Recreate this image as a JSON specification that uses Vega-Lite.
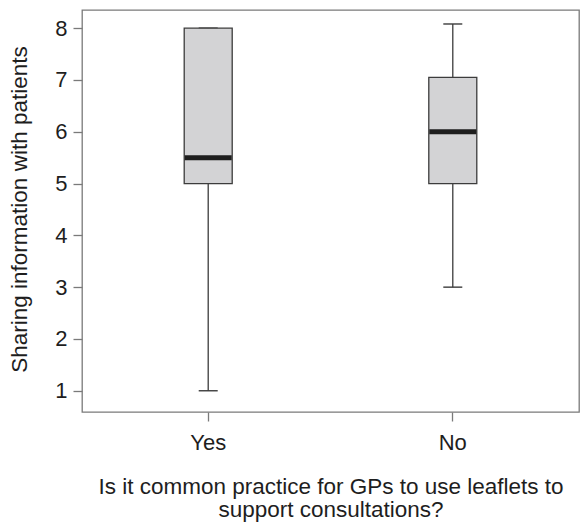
{
  "$schema": "https://vega.github.io/schema/vega-lite/v6.json",
  "width": 497,
  "height": 402,
  "autosize": "none",
  "padding": {"left": 82, "top": 10, "right": 8, "bottom": 112},
  "background": "white",
  "config": {
    "view": {"stroke": "#7a7a7a", "strokeWidth": 1.3},
    "font": "Liberation Sans",
    "axis": {
      "grid": false,
      "domain": false,
      "tickColor": "#7a7a7a",
      "tickWidth": 1.3,
      "tickSize": 9,
      "labelColor": "#1e1e1e",
      "titleColor": "#1e1e1e",
      "labelFont": "Liberation Sans",
      "titleFont": "Liberation Sans",
      "titleFontWeight": "normal",
      "labelFontSize": 22,
      "titleFontSize": 22.5
    }
  },
  "data": {
    "values": [
      {"group": "Yes", "lower": 1, "q1": 5, "median": 5.5, "q3": 8, "upper": 8},
      {"group": "No", "lower": 3, "q1": 5, "median": 6, "q3": 7.05, "upper": 8.08}
    ]
  },
  "encoding": {
    "x": {
      "field": "group",
      "type": "nominal",
      "sort": ["Yes", "No"],
      "scale": {"paddingInner": 0, "paddingOuter": 0.016},
      "axis": {
        "title": ["Is it common practice for GPs to use leaflets to", "support consultations?"],
        "labelAngle": 0,
        "labelPadding": 11,
        "titleBaseline": "alphabetic",
        "titleY": 81,
        "titleLineHeight": 23.5
      }
    }
  },
  "layer": [
    {
      "mark": {"type": "rule", "color": "#3c3c3c", "strokeWidth": 1.3},
      "encoding": {
        "y": {
          "field": "lower",
          "type": "quantitative",
          "scale": {"domain": [0.59, 8.35], "nice": false, "zero": false},
          "axis": {
            "title": "Sharing information with patients",
            "values": [1, 2, 3, 4, 5, 6, 7, 8],
            "format": "d",
            "labelPadding": 6,
            "titleAngle": 270,
            "titleBaseline": "alphabetic",
            "titleX": -56,
            "titleY": 199
          }
        },
        "y2": {"field": "upper"}
      }
    },
    {
      "mark": {"type": "tick", "color": "#3c3c3c", "opacity": 1, "size": 19, "thickness": 1.4},
      "encoding": {"y": {"field": "lower", "type": "quantitative"}}
    },
    {
      "mark": {"type": "tick", "color": "#3c3c3c", "opacity": 1, "size": 19, "thickness": 1.4},
      "encoding": {"y": {"field": "upper", "type": "quantitative"}}
    },
    {
      "mark": {"type": "bar", "width": 48, "fill": "#d3d3d5", "stroke": "#3c3c3c", "strokeWidth": 1.3},
      "encoding": {
        "y": {"field": "q1", "type": "quantitative"},
        "y2": {"field": "q3"}
      }
    },
    {
      "mark": {"type": "tick", "color": "#1e1e1e", "opacity": 1, "size": 47, "thickness": 5},
      "encoding": {"y": {"field": "median", "type": "quantitative"}}
    }
  ]
}
